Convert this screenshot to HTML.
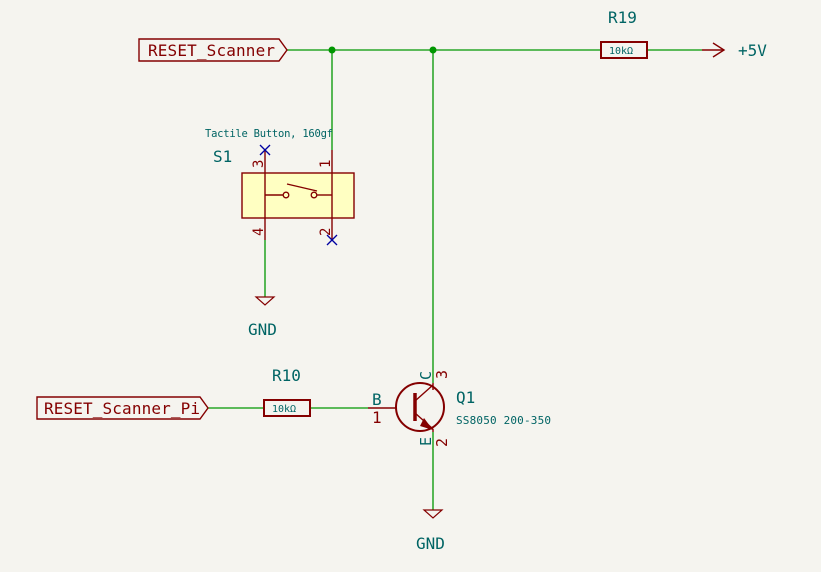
<!DOCTYPE html>
<html><head><meta charset="utf-8"><style>
html,body{margin:0;padding:0;background:#f5f4ef}
svg{display:block}
text{font-family:"DejaVu Sans Mono","Liberation Mono",monospace}
</style></head><body>
<svg width="821" height="572" viewBox="0 0 821 572" xmlns="http://www.w3.org/2000/svg">
<rect width="821" height="572" fill="#f5f4ef"/>
<g stroke="#009600" stroke-width="1.3" fill="none">
<line x1="287" y1="50" x2="601" y2="50"/>
<line x1="648" y1="50" x2="702" y2="50"/>
<line x1="332" y1="50" x2="332" y2="150"/>
<line x1="433" y1="50" x2="433" y2="383"/>
<line x1="265" y1="240" x2="265" y2="297"/>
<line x1="208" y1="408" x2="264" y2="408"/>
<line x1="310" y1="408" x2="368" y2="408"/>
<line x1="433" y1="432" x2="433" y2="510"/>
</g>
<circle cx="332" cy="50" r="3.5" fill="#009600"/>
<circle cx="433" cy="50" r="3.5" fill="#009600"/>
<g stroke="#840000" stroke-width="1.4" fill="none">
<path d="M139 39 H279 L287 50 L279 61 H139 Z"/>
<path d="M37 397 H200 L208 408 L200 419 H37 Z"/>
<rect x="601" y="42" width="46" height="16" stroke-width="2"/>
<rect x="264" y="400" width="46" height="16" stroke-width="2"/>
<line x1="702" y1="50" x2="724" y2="50"/>
<polyline points="713,43 724,50 713,57"/>
<line x1="265" y1="150" x2="265" y2="240"/>
<line x1="332" y1="150" x2="332" y2="240"/>
<polygon points="256,297 274,297 265,305" stroke-width="1.2"/>
<polygon points="424,510 442,510 433,518" stroke-width="1.2"/>
<line x1="368" y1="408" x2="397" y2="408"/>
<circle cx="420" cy="407" r="24" stroke-width="2"/>
<line x1="415" y1="393" x2="415" y2="421" stroke-width="3.5"/>
<line x1="415" y1="401" x2="433" y2="385"/>
<line x1="433" y1="383" x2="433" y2="390"/>
<line x1="415" y1="413" x2="433" y2="429"/>
<line x1="433" y1="429" x2="433" y2="432"/>
</g>
<polygon points="424,418 433,430 420,426" fill="#840000"/>
<rect x="242" y="173" width="112" height="45" fill="#ffffc2" stroke="#840000" stroke-width="1.4"/>
<g stroke="#840000" stroke-width="1.4">
<line x1="265" y1="173" x2="265" y2="218"/>
<line x1="332" y1="173" x2="332" y2="218"/>
<line x1="265" y1="195" x2="283" y2="195"/>
<line x1="317" y1="195" x2="332" y2="195"/>
<line x1="287" y1="184" x2="317" y2="191"/>
</g>
<circle cx="286" cy="195" r="2.8" fill="#ffffc2" stroke="#840000" stroke-width="1.3"/>
<circle cx="314" cy="195" r="2.8" fill="#ffffc2" stroke="#840000" stroke-width="1.3"/>
<g stroke="#0000a0" stroke-width="1.3">
<line x1="260" y1="145" x2="270" y2="155"/><line x1="270" y1="145" x2="260" y2="155"/>
<line x1="327" y1="235" x2="337" y2="245"/><line x1="337" y1="235" x2="327" y2="245"/>
</g>
<g fill="#840000" font-size="16">
<text x="148" y="56" textLength="127">RESET_Scanner</text>
<text x="44" y="414" textLength="156">RESET_Scanner_Pi</text>
<text x="372" y="423">1</text>
<text x="0" y="0" font-size="14" transform="translate(263,168) rotate(-90)">3</text>
<text x="0" y="0" font-size="14" transform="translate(330,168) rotate(-90)">1</text>
<text x="0" y="0" font-size="14" transform="translate(263,236) rotate(-90)">4</text>
<text x="0" y="0" font-size="14" transform="translate(330,236) rotate(-90)">2</text>
<text x="0" y="0" font-size="15" transform="translate(447,379) rotate(-90)">3</text>
<text x="0" y="0" font-size="15" transform="translate(447,447) rotate(-90)">2</text>
</g>
<g fill="#006464" font-size="16">
<text x="608" y="23">R19</text>
<text x="272" y="381">R10</text>
<text x="738" y="56">+5V</text>
<text x="248" y="335">GND</text>
<text x="416" y="549">GND</text>
<text x="213" y="162">S1</text>
<text x="372" y="405">B</text>
<text x="456" y="403">Q1</text>
<text x="0" y="0" font-size="15" transform="translate(431,380) rotate(-90)">C</text>
<text x="0" y="0" font-size="15" transform="translate(431,446) rotate(-90)">E</text>
<text x="205" y="137" font-size="10.5" textLength="128">Tactile Button, 160gf</text>
<text x="456" y="424" font-size="11" textLength="95">SS8050 200-350</text>
<text x="609" y="54" font-size="10">10kΩ</text>
<text x="272" y="412" font-size="10">10kΩ</text>
</g>
</svg>
</body></html>
